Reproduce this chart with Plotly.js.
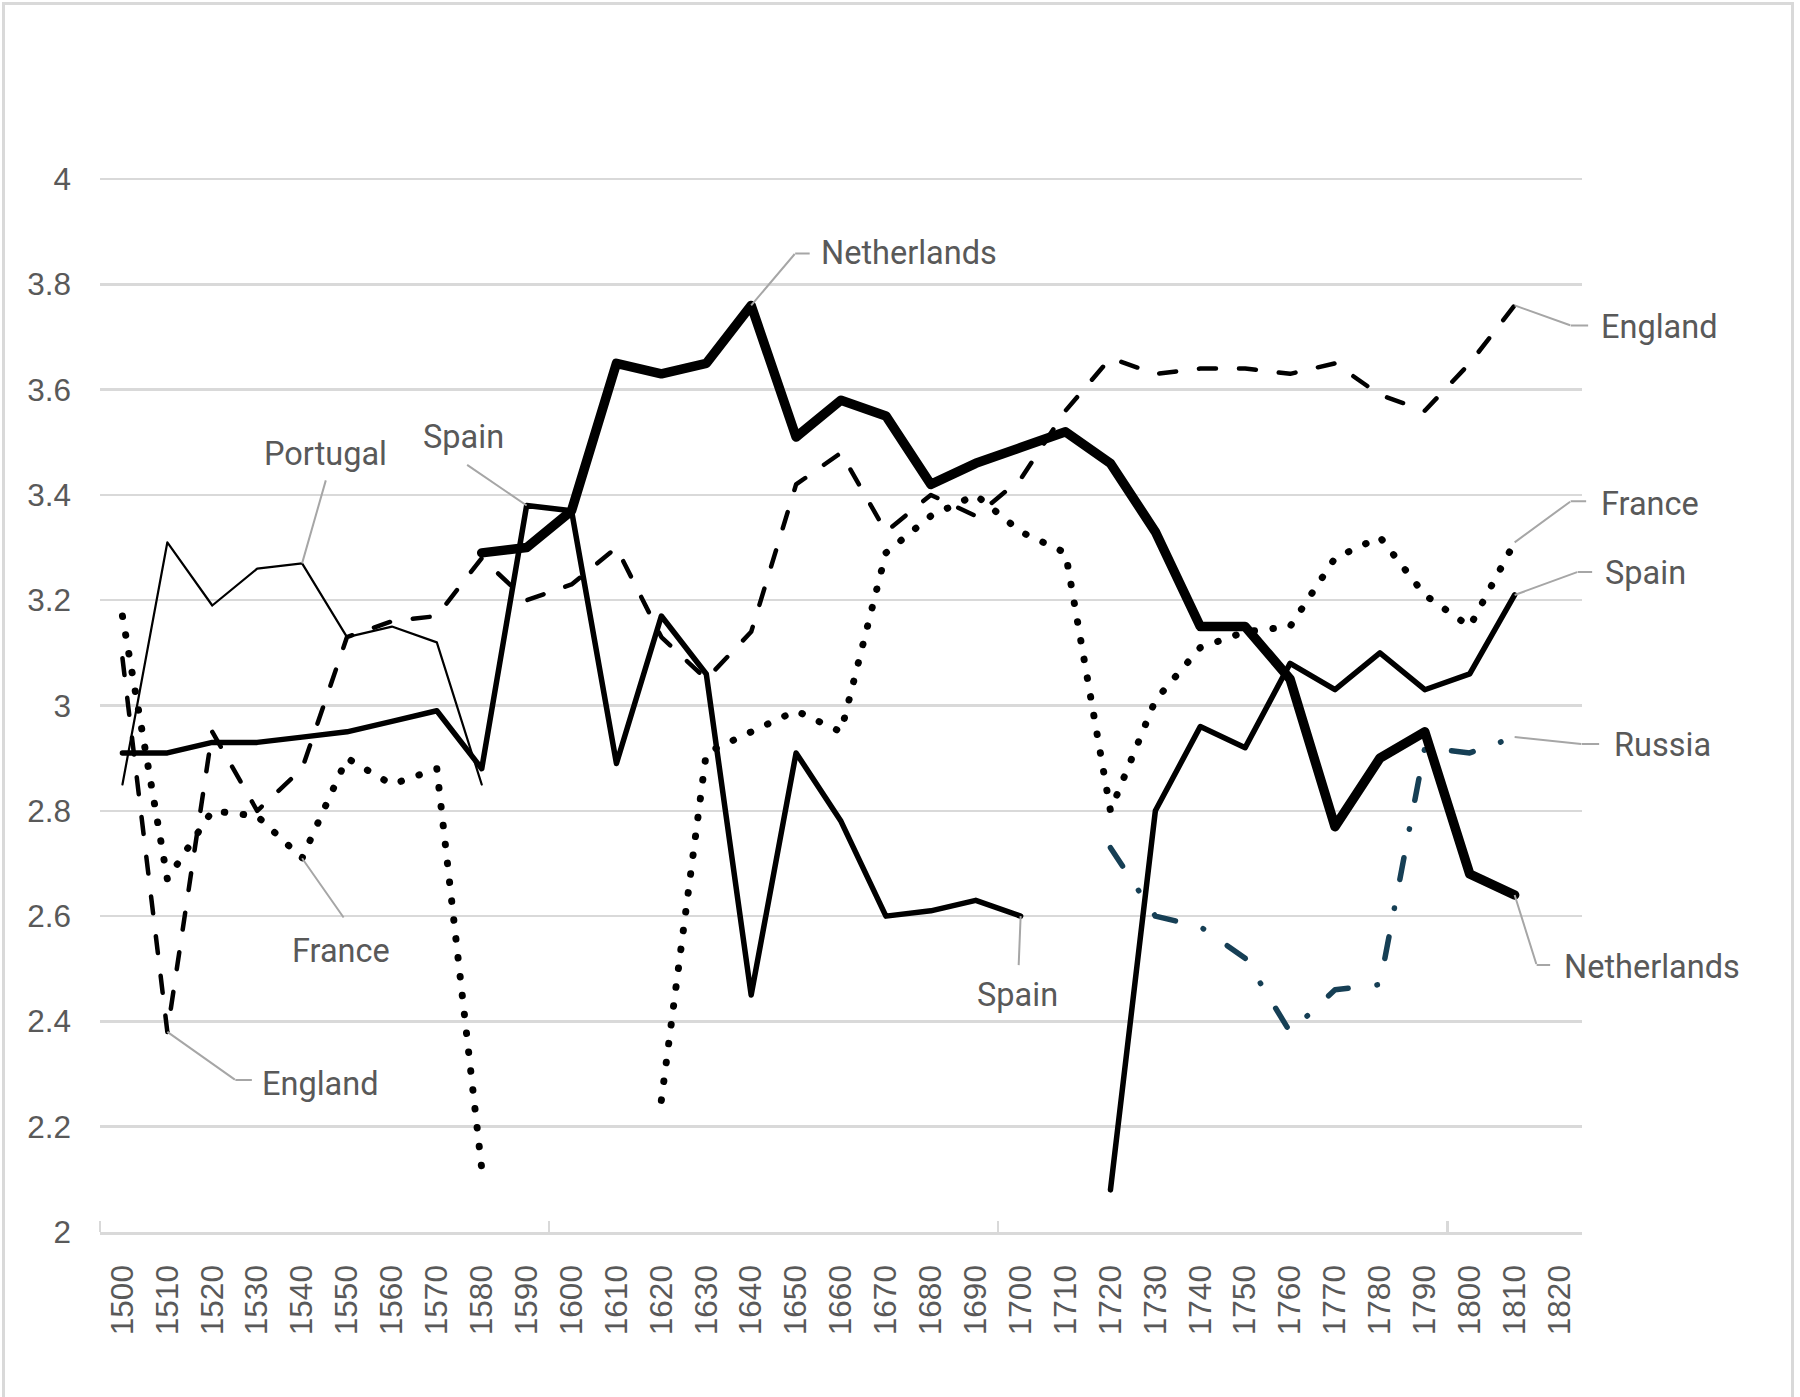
<!DOCTYPE html>
<html>
<head>
<meta charset="utf-8">
<script src="https://cdn.plot.ly/plotly-3.0.1.min.js"></script>
<style>
html, body { margin: 0; padding: 0; background: #ffffff; }
#chart { width: 1800px; height: 1397px; }
#frame { position: absolute; left: 2px; top: 2px; width: 1792px; height: 1420px; border: 3px solid #d9d9d9; box-sizing: border-box; pointer-events: none; }
.scatterlayer .js-line { stroke-linecap: round; stroke-linejoin: round; }
</style>
</head>
<body>
<div id="chart"></div>
<div id="frame"></div>
<script>
// ---------- data ----------
const years = [1500,1510,1520,1530,1540,1550,1560,1570,1580,1590,1600,1610,1620,1630,1640,1650,1660,1670,1680,1690,1700,1710,1720,1730,1740,1750,1760,1770,1780,1790,1800,1810,1820];
const yearLabels = years.map(String);

const netherlands = [null,null,null,null,null,null,null,null,3.29,3.30,3.37,3.65,3.63,3.65,3.76,3.51,3.58,3.55,3.42,3.46,3.49,3.52,3.46,3.33,3.15,3.15,3.05,2.77,2.90,2.95,2.68,2.64,null];
const spain       = [2.91,2.91,2.93,2.93,2.94,2.95,2.97,2.99,2.88,3.38,3.37,2.89,3.17,3.06,2.45,2.91,2.78,2.60,2.61,2.63,2.60,null,2.08,2.80,2.96,2.92,3.08,3.03,3.10,3.03,3.06,3.21,null];
const portugal    = [2.85,3.31,3.19,3.26,3.27,3.13,3.15,3.12,2.85,null,null,null,null,null,null,null,null,null,null,null,null,null,null,null,null,null,null,null,null,null,null,null,null];
const england     = [3.09,2.38,2.95,2.80,2.88,3.13,3.16,3.17,3.28,3.20,3.23,3.30,3.13,3.05,3.14,3.42,3.48,3.33,3.40,3.36,3.43,3.56,3.66,3.63,3.64,3.64,3.63,3.65,3.59,3.56,3.65,3.76,null];
const france      = [3.17,2.67,2.80,2.79,2.71,2.90,2.85,2.88,2.12,null,null,null,2.25,2.91,2.95,2.99,2.95,3.29,3.36,3.40,3.33,3.29,2.80,3.01,3.11,3.14,3.15,3.28,3.32,3.21,3.15,3.31,null];
const russia      = [null,null,null,null,null,null,null,null,null,null,null,null,null,null,null,null,null,null,null,null,null,null,2.73,2.60,2.58,2.52,2.38,2.46,2.47,2.92,2.91,2.94,null];

const yTickVals = [2,2.2,2.4,2.6,2.8,3,3.2,3.4,3.6,3.8,4];
const yTickText = ['2','2.2','2.4','2.6','2.8','3','3.2','3.4','3.6','3.8','4'];
const xMajorTicks = [1495,1595,1695,1795];

// ---------- traces ----------
function series(name, ys, width, dash, color) {
  return {
    type: 'scatter', mode: 'lines', name: name,
    x: years, y: ys, connectgaps: false,
    line: { color: color || '#000000', width: width, dash: dash || 'solid' },
    hoverinfo: 'skip'
  };
}

const traces = [
  series('Portugal', portugal, 2.2, 'solid'),
  series('England', england, 4.5, '17px,23px'),
  series('France', france, 7, '0.5px,18.5px'),
  series('Russia', russia, 5.5, '22px,29px,0.5px,29px', '#163f55'),
  series('Spain', spain, 5.5, 'solid'),
  series('Netherlands', netherlands, 9.5, 'solid')
];

// ---------- labels with leader lines ----------
const LABEL_FONT = { family: 'Roboto, "Open Sans", sans-serif', size: 32.5, color: '#595959' };
const LEADER = '#a6a6a6';
const annotations = [];

function idx(year) { return years.indexOf(year); }

// pts: leader vertices in pixels relative to the data point (dy positive = up)
function label(arr, year, text, pts, tdx, tdy, anchor) {
  const x = year, y = arr[idx(year)];
  let prev = [0, 0];
  pts.forEach(function (p) {
    annotations.push({
      x: x, y: y, xref: 'x', yref: 'y',
      xshift: prev[0], yshift: prev[1],
      ax: p[0] - prev[0], ay: -(p[1] - prev[1]),
      text: ' ', font: { size: 1 }, borderpad: 0,
      showarrow: true, arrowhead: 0, arrowwidth: 2, arrowcolor: LEADER,
      standoff: 0, startstandoff: 0
    });
    prev = p;
  });
  annotations.push({
    x: x, y: y, xref: 'x', yref: 'y',
    xshift: tdx, yshift: tdy,
    xanchor: anchor, yanchor: 'middle',
    text: text, font: LABEL_FONT, showarrow: false, borderpad: 0
  });
}

label(portugal, 1540, 'Portugal', [[24, 84]], 23, 109, 'center');
label(spain, 1590, 'Spain', [[-60, 41]], -63, 68, 'center');
label(france, 1540, 'France', [[42, -60]], 39, -93, 'center');
label(england, 1510, 'England', [[68, -48], [85, -48]], 94, -52, 'left');
label(netherlands, 1640, 'Netherlands', [[44, 52], [59, 52]], 69, 52, 'left');
label(spain, 1700, 'Spain', [[-2, -50]], -3, -79, 'center');
label(england, 1810, 'England', [[56, -20], [74, -20]], 85, -22, 'left');
label(france, 1810, 'France', [[56, 41], [72, 41]], 85, 38, 'left');
label(spain, 1810, 'Spain', [[63, 23], [78, 23]], 89, 22, 'left');
label(russia, 1810, 'Russia', [[67, -7], [85, -7]], 98, -8, 'left');
label(netherlands, 1810, 'Netherlands', [[22, -70], [36, -70]], 48, -72, 'left');

// ---------- layout ----------
const TICK_FONT = { family: '"Liberation Sans", Arial, sans-serif', size: 31.5, color: '#595959' };

const layout = {
  width: 1800, height: 1397,
  margin: { l: 100, r: 218, t: 178, b: 165, pad: 0 },
  paper_bgcolor: '#ffffff', plot_bgcolor: '#ffffff',
  showlegend: false, hovermode: false,
  xaxis: {
    type: 'linear', range: [1495, 1825],
    tickmode: 'array', tickvals: years, ticktext: yearLabels,
    tickangle: -90, tickfont: TICK_FONT,
    ticks: '', ticklabelstandoff: 18,
    showgrid: false, zeroline: false,
    showline: true, linecolor: '#d9d9d9', linewidth: 2.5,
    minor: { tickmode: 'array', tickvals: xMajorTicks, ticks: 'inside', ticklen: 11, tickwidth: 2.5, tickcolor: '#d9d9d9', showgrid: false },
    fixedrange: true
  },
  yaxis: {
    range: [2, 4.002],
    tickmode: 'array', tickvals: yTickVals, ticktext: yTickText,
    tickfont: TICK_FONT, ticks: '', ticklabelstandoff: 28,
    showgrid: true, gridcolor: '#d9d9d9', gridwidth: 2.5,
    zeroline: false, showline: false,
    fixedrange: true
  },
  annotations: annotations
};

Plotly.newPlot('chart', traces, layout, { displayModeBar: false, staticPlot: true });
</script>
</body>
</html>
